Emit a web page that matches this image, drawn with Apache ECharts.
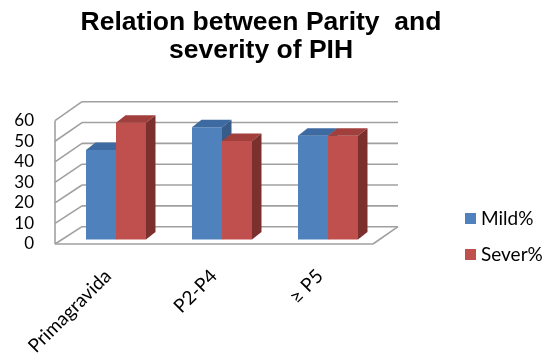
<!DOCTYPE html>
<html>
<head>
<meta charset="utf-8">
<script src="https://cdn.jsdelivr.net/npm/echarts@6/dist/echarts.min.js"></script>
<style>
  html, body { margin: 0; padding: 0; background: #fff; }
  #main { width: 544px; height: 364px; }
</style>
</head>
<body>
<div id="main"></div>
<script>
const categories = ['Primagravida', 'P2-P4', '≥ P5'];
const mild = [43.6, 54.6, 50.5];
const sever = [56.8, 47.9, 50.5];
const yTicks = [0, 10, 20, 30, 40, 50, 60];

const chartDom = document.getElementById('main');
const myChart = echarts.init(chartDom);

// depth of the box, in pixels (back wall offset from the front plane)
const depthX = 27;
const depthYAt = v => -17.3 - 1.7 * v / 60;
const gridColor = '#a0a0a0';

function renderFrame(params, api) {
  const v = api.value(1);
  const p = api.coord([0, v]);
  const band = api.size([1, 0])[0];
  const leftX = p[0] - band / 2;
  const rightX = api.coord([categories.length - 1, v])[0] + band / 2;
  const y = p[1];
  const dy = depthYAt(v);
  const style = { stroke: gridColor, lineWidth: 1.6 };
  const children = [
    { type: 'line', shape: { x1: leftX + depthX, y1: y + dy, x2: rightX + depthX - 2, y2: y + dy }, style },
    { type: 'line', shape: { x1: leftX, y1: y, x2: leftX + depthX, y2: y + dy }, style }
  ];
  if (v === 0) {
    const topY = api.coord([0, yTicks[yTicks.length - 1]])[1];
    children.push(
      { type: 'line', shape: { x1: leftX, y1: y, x2: rightX, y2: y }, style },
      { type: 'line', shape: { x1: rightX, y1: y, x2: rightX + depthX - 2, y2: y + dy }, style },
      { type: 'line', shape: { x1: leftX, y1: y, x2: leftX, y2: topY }, style }
    );
  }
  return { type: 'group', children };
}

function barRenderer(slot, front, top, side) {
  return function (params, api) {
    const i = api.value(0);
    const base = api.coord([i, 0]);
    const tip = api.coord([i, api.value(1)]);
    const band = api.size([1, 0])[0];
    const bw = band * 0.283;
    const offX = 8, offY = -4.5;   // bars sit a little behind the front plane
    const sx = 9.5, sy = -7.5;     // bar depth
    const x0 = base[0] + offX + (slot === 0 ? -bw : 0);
    const x1 = x0 + bw;
    const yb = base[1] + offY;
    const yt = tip[1] + offY;
    return {
      type: 'group',
      children: [
        { type: 'rect', shape: { x: x0, y: yt, width: bw, height: yb - yt }, style: { fill: front } },
        { type: 'polygon', shape: { points: [[x0, yt], [x1, yt], [x1 + sx, yt + sy], [x0 + sx, yt + sy]] }, style: { fill: top } },
        { type: 'polygon', shape: { points: [[x1, yt], [x1 + sx, yt + sy], [x1 + sx, yb + sy], [x1, yb]] }, style: { fill: side } }
      ]
    };
  };
}

const option = {
  backgroundColor: '#fff',
  animation: false,
  title: {
    text: 'Relation between Parity  and\nseverity of PIH',
    left: 256,
    top: 4,
    textAlign: 'center',
    textStyle: {
      fontFamily: 'Liberation Sans',
      fontWeight: 'bold',
      fontSize: 26.5,
      lineHeight: 28,
      color: '#000'
    }
  },
  legend: {
    orient: 'vertical',
    left: 460,
    top: 204,
    itemWidth: 11,
    itemHeight: 11,
    itemGap: 17,
    icon: 'rect',
    data: ['Mild%', 'Sever%'],
    textStyle: { fontFamily: 'Lato', fontSize: 19, color: '#000' }
  },
  grid: {
    left: 55,
    top: 120.7,
    width: 318,
    height: 123.3
  },
  xAxis: {
    type: 'category',
    data: categories,
    axisLine: { show: false },
    axisTick: { show: false },
    axisLabel: {
      rotate: 45,
      margin: 29,
      fontFamily: 'Lato',
      fontSize: 19,
      color: '#000'
    }
  },
  yAxis: {
    type: 'value',
    min: 0,
    max: 60,
    interval: 10,
    axisLine: { show: false },
    axisTick: { show: false },
    splitLine: { show: false },
    axisLabel: {
      margin: 21,
      fontFamily: 'Lato',
      fontSize: 17,
      color: '#000'
    }
  },
  series: [
    {
      type: 'custom',
      name: 'frame',
      silent: true,
      z: 1,
      data: yTicks.map(v => [0, v]),
      encode: { x: 0, y: 1 },
      renderItem: renderFrame
    },
    {
      type: 'custom',
      name: 'Mild%',
      z: 2,
      itemStyle: { color: '#4F81BD' },
      data: mild.map((v, i) => [i, v]),
      encode: { x: 0, y: 1 },
      renderItem: barRenderer(0, '#4F81BD', '#3D6AA0', '#375C8A')
    },
    {
      type: 'custom',
      name: 'Sever%',
      z: 3,
      itemStyle: { color: '#C0504D' },
      data: sever.map((v, i) => [i, v]),
      encode: { x: 0, y: 1 },
      renderItem: barRenderer(1, '#C0504D', '#A13F3C', '#7C302E')
    }
  ]
};

myChart.setOption(option);
</script>
</body>
</html>
